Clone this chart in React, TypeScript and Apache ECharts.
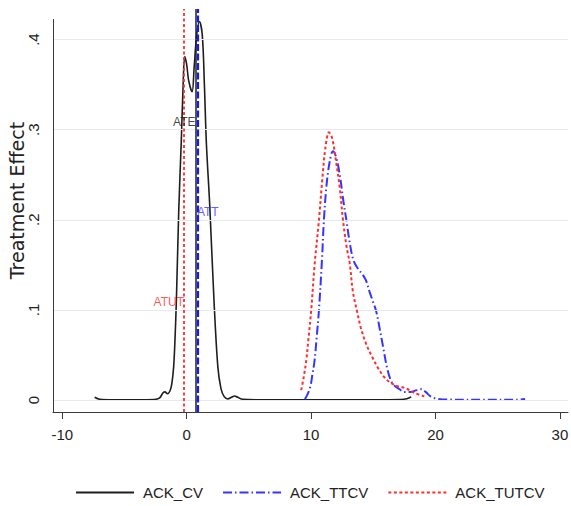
import React, { useEffect, useRef } from "react";
import * as echarts from "echarts";

// ---- data ----
const seriesNames = ["ACK_CV", "ACK_TTCV", "ACK_TUTCV"];

const ackCV: [number, number][] = [
  [-7.4, 0.003], [-7.0, 0.0008], [-6.0, 0.0003], [-4.0, 0.0003], [-2.6, 0.0005],
  [-2.2, 0.002], [-1.9, 0.008], [-1.75, 0.009], [-1.55, 0.007], [-1.35, 0.01],
  [-1.2, 0.018], [-1.05, 0.037], [-0.95, 0.065], [-0.83, 0.111], [-0.64, 0.211],
  [-0.43, 0.29], [-0.3, 0.345], [-0.16, 0.381], [0.0, 0.372], [0.15, 0.355],
  [0.43, 0.342], [0.6, 0.37], [0.8, 0.405], [1.02, 0.42], [1.25, 0.405],
  [1.42, 0.35], [1.58, 0.285], [1.85, 0.216], [2.19, 0.111], [2.5, 0.037],
  [2.75, 0.013], [3.0, 0.004], [3.3, 0.0012], [3.6, 0.003], [3.85, 0.0045],
  [4.1, 0.003], [4.5, 0.0008], [6, 0.0003], [10, 0.0003], [15, 0.0003],
  [17.2, 0.0006], [17.7, 0.0015], [18.05, 0.0035],
];

const ackTTCV: [number, number][] = [
  [9.5, 0.001], [9.7, 0.006], [9.94, 0.015], [10.1, 0.028], [10.28, 0.044],
  [10.45, 0.07], [10.63, 0.1], [10.87, 0.155], [11.03, 0.2], [11.25, 0.24],
  [11.5, 0.265], [11.75, 0.276], [12.0, 0.27], [12.3, 0.25], [12.6, 0.22],
  [12.83, 0.2], [13.1, 0.175], [13.4, 0.155], [13.75, 0.146], [14.1, 0.14],
  [14.4, 0.133], [14.7, 0.12], [14.95, 0.11], [15.24, 0.098], [15.5, 0.08],
  [15.8, 0.058], [16.1, 0.036], [16.4, 0.022], [16.7, 0.016], [17.1, 0.012],
  [17.5, 0.009], [18.0, 0.009], [18.5, 0.011], [18.85, 0.012], [19.2, 0.009],
  [19.6, 0.004], [20.1, 0.0015], [21, 0.0005], [24, 0.0003], [26.5, 0.0004],
  [27.2, 0.0012],
];

const ackTUTCV: [number, number][] = [
  [9.2, 0.011], [9.4, 0.025], [9.61, 0.044], [9.8, 0.07], [10.01, 0.1],
  [10.28, 0.15], [10.63, 0.2], [10.9, 0.245], [11.15, 0.28], [11.43, 0.297],
  [11.7, 0.29], [12.0, 0.265], [12.29, 0.237], [12.56, 0.2], [12.85, 0.17],
  [13.1, 0.152], [13.36, 0.12], [13.7, 0.098], [14.0, 0.08], [14.43, 0.062],
  [14.9, 0.048], [15.4, 0.035], [15.9, 0.025], [16.4, 0.019], [17.0, 0.015],
  [17.6, 0.013], [18.3, 0.008], [19.1, 0.004],
];

const xTicks = [-10, 0, 10, 20, 30];
const yTicks = [0, 0.1, 0.2, 0.3, 0.4];

const refNames = ["ATE", "ATT", "ATUT"];
const refValues = [0.72, 0.86, -0.2];
// label anchor points (x, y) for ATE, ATT, ATUT
const refLabelPos: [number, number][] = [[-0.2, 0.308], [0.82, 0.209], [-0.22, 0.109]];

// ---- style ----
const FONT = "'Liberation Sans', Arial, sans-serif";
const BLACK = "#1e1e1e";
const BLUE = "#3535ff";
const RED = "#ff2e2e";
const GRID = "#e3ebee";
const AXIS = "#3a3a3a";

const X_MIN = -10.75;
const X_MAX = 30.65;
const Y_MIN = -0.0133;
const Y_MAX = 0.4339;
const Y_AXIS_TOP = 0.4228;

export default function App() {
  const ref = useRef<HTMLDivElement>(null);
  useEffect(() => {
    if (!ref.current) return;
    const chart = echarts.init(ref.current, null, { renderer: "svg" });
    const option: any = {
      animation: false,
      backgroundColor: "#ffffff",
      textStyle: { fontFamily: FONT },
      grid: { left: 53, right: 3, top: 9, bottom: 94, containLabel: false, outerBoundsMode: "none" },
      legend: {
        data: seriesNames,
        left: 70,
        top: 480,
        itemWidth: 58,
        itemHeight: 14,
        itemGap: 19,
        itemStyle: { opacity: 0 },
        textStyle: { fontSize: 15, color: "#222", fontFamily: FONT, padding: [0, 0, 0, 4] },
      },
      xAxis: {
        type: "value",
        min: X_MIN,
        max: X_MAX,
        axisLine: { show: true, onZero: false, lineStyle: { color: AXIS, width: 1 } },
        axisTick: { show: true, length: 7, customValues: xTicks, lineStyle: { color: AXIS } },
        axisLabel: {
          customValues: xTicks,
          fontSize: 15,
          color: "#222",
          margin: 15,
          fontFamily: FONT,
        },
        splitLine: { show: false },
      },
      yAxis: {
        type: "value",
        min: Y_MIN,
        max: Y_MAX,
        name: "Treatment Effect",
        nameLocation: "middle",
        nameGap: 27,
        nameRotate: 90,
        nameMoveOverlap: false,
        nameTextStyle: {
          fontSize: 19,
          color: "#222",
          fontFamily: "'DejaVu Sans', sans-serif",
          padding: [0, 0, 0, 20],
        },
        axisLine: { show: false },
        axisTick: { show: true, length: 6, customValues: yTicks, lineStyle: { color: AXIS } },
        axisLabel: {
          customValues: yTicks,
          rotate: 90,
          fontSize: 15,
          color: "#222",
          margin: 12,
          fontFamily: FONT,
          formatter: (v: number) => (v === 0 ? "0" : String(Math.round(v * 10) / 10).replace(/^0/, "")),
        },
        splitLine: { show: false },
      },
      series: [
        {
          name: "gridlines",
          type: "line",
          data: [],
          z: 0,
          silent: true,
          markLine: {
            silent: true,
            symbol: "none",
            label: { show: false },
            lineStyle: { color: GRID, width: 1.2, type: "solid" },
            data: yTicks.map((v) => ({ yAxis: v })),
          },
        },
        {
          name: "yaxisline",
          type: "line",
          data: [],
          z: 1,
          silent: true,
          markLine: {
            silent: true,
            symbol: "none",
            label: { show: false },
            lineStyle: { color: AXIS, width: 1, type: "solid" },
            data: [[{ coord: [X_MIN, Y_MIN] }, { coord: [X_MIN, Y_AXIS_TOP] }]],
          },
        },
        {
          name: seriesNames[0],
          type: "line",
          data: ackCV,
          symbol: "none",
          showSymbol: false,
          smooth: 0.35,
          z: 3,
          lineStyle: { color: BLACK, width: 1.6, type: "solid" },
          itemStyle: { color: BLACK },
          markLine: {
            silent: true,
            symbol: "none",
            label: { show: false },
            lineStyle: { color: BLACK, width: 1.5, type: "solid" },
            data: [{ xAxis: refValues[0] }],
          },
        },
        {
          name: seriesNames[1],
          type: "line",
          data: ackTTCV,
          symbol: "none",
          showSymbol: false,
          smooth: 0.35,
          z: 4,
          lineStyle: { color: BLUE, width: 2, type: [9, 3, 1.5, 3] },
          itemStyle: { color: BLUE },
          markLine: {
            silent: true,
            symbol: "none",
            label: { show: false },
            lineStyle: { color: "#1a1ae8", width: 2.2, type: [7, 2.5] },
            data: [{ xAxis: refValues[1] }],
          },
        },
        {
          name: seriesNames[2],
          type: "line",
          data: ackTUTCV,
          symbol: "none",
          showSymbol: false,
          smooth: 0.35,
          z: 5,
          lineStyle: { color: RED, width: 2, type: [3, 2.5] },
          itemStyle: { color: RED },
          markLine: {
            silent: true,
            symbol: "none",
            label: { show: false },
            lineStyle: { color: RED, width: 1.8, type: [3, 2.5] },
            data: [{ xAxis: refValues[2] }],
          },
        },
        {
          name: "reflabels",
          type: "scatter",
          symbolSize: 0,
          silent: true,
          z: 6,
          data: [
            {
              value: refLabelPos[0],
              label: { show: true, position: "inside", formatter: refNames[0], color: "#111", align: "center", verticalAlign: "middle", fontSize: 12, fontFamily: FONT },
            },
            {
              value: refLabelPos[1],
              label: { show: true, position: "inside", formatter: refNames[1], color: BLUE, align: "left", verticalAlign: "middle", fontSize: 12, fontFamily: FONT },
            },
            {
              value: refLabelPos[2],
              label: { show: true, position: "inside", formatter: refNames[2], color: RED, align: "right", verticalAlign: "middle", fontSize: 12, fontFamily: FONT },
            },
          ],
        },
      ],
    };
    chart.setOption(option);
    return () => chart.dispose();
  }, []);
  return (
    <div
      ref={ref}
      style={{ position: "absolute", left: 0, top: 0, width: 571, height: 506, background: "#fff" }}
    />
  );
}
